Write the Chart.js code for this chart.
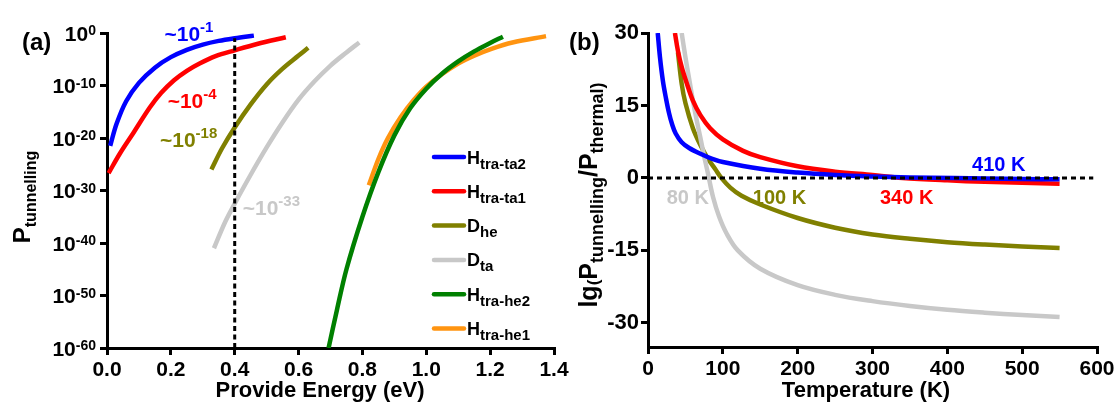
<!DOCTYPE html>
<html>
<head>
<meta charset="utf-8">
<script src="https://cdn.jsdelivr.net/npm/chart.js@4.4.0/dist/chart.umd.min.js"></script>
<style>
  body { margin: 0; background: #fff; }
  .panel { position: absolute; left: 0; top: 0; width: 1118px; height: 405px; }
</style>
</head>
<body>
<div class="panel"><canvas id="energyChart" width="1118" height="405"></canvas></div>
<div class="panel"><canvas id="tempChart" width="1118" height="405"></canvas></div>
<script>
// ---- panel (a): tunnelling probability vs provided energy (values are log10 P) ----
let energyTicks = [0, -10, -20, -30, -40, -50, -60];

let traTa2Energy = [0.01, 0.03, 0.06, 0.1, 0.15, 0.2, 0.25, 0.3, 0.35, 0.4, 0.46];
let traTa2LogP = [-21.5, -17.3, -13, -9.5, -6.6, -4.6, -3.2, -2.2, -1.5, -1.0, -0.5];

let traTa1Energy = [0.005, 0.04, 0.083, 0.134, 0.17, 0.21, 0.25, 0.29, 0.34, 0.4, 0.47, 0.56];
let traTa1LogP = [-26.7, -23, -19, -14.2, -11.4, -9, -7.2, -5.8, -4.4, -3.3, -2.1, -0.8];

let dHeEnergy = [0.327, 0.36, 0.4, 0.45, 0.5, 0.55, 0.6, 0.63];
let dHeLogP = [-26, -22, -18, -13.6, -9.8, -6.8, -4.3, -2.8];

let dTaEnergy = [0.335, 0.37, 0.4, 0.45, 0.5, 0.55, 0.6, 0.65, 0.7, 0.75, 0.79];
let dTaLogP = [-41, -36, -32.5, -27, -21.8, -17, -12.7, -9.2, -6.2, -3.7, -1.8];

let traHe2Energy = [0.694, 0.72, 0.75, 0.8, 0.85, 0.9, 0.95, 1.0, 1.05, 1.1, 1.15, 1.2, 1.24];
let traHe2LogP = [-60, -52.8, -45, -35, -26.5, -19.5, -14.3, -10.6, -7.7, -5.4, -3.5, -1.9, -0.7];

let traHe1Energy = [0.82, 0.85, 0.88, 0.92, 0.96, 1.0, 1.05, 1.1, 1.15, 1.2, 1.27, 1.375];
let traHe1LogP = [-29, -24, -20, -16, -12.8, -10.2, -7.8, -5.8, -4.3, -3.1, -1.8, -0.6];

let markerEnergy = [0.4, 0.4];
let markerLogP = [-60, -1];

// ---- panel (b): lg(Ptunnelling/Pthermal) vs temperature ----
let ratioTicks = [30, 15, 0, -15, -30];

let ratioTa2Temp = [13, 16, 20, 24, 28, 32, 37, 45, 55, 70, 85, 100, 150, 200, 250, 300, 350, 410, 450, 500, 550];
let ratioTa2 = [30, 25, 20, 16.5, 13.5, 11.2, 9.2, 7.4, 6.2, 5, 4, 3.3, 1.9, 1.1, 0.6, 0.3, 0.1, 0, -0.1, -0.2, -0.3];

let ratioTa1Temp = [36, 40, 45, 52, 60, 70, 83, 100, 127, 150, 200, 250, 300, 340, 400, 450, 500, 550];
let ratioTa1 = [30, 26.3, 23, 19.5, 16, 13, 10.3, 8, 5.6, 4.3, 2.4, 1.3, 0.6, 0, -0.5, -0.8, -1.0, -1.2];

let ratioHeTemp = [40, 45, 50, 60, 70, 80, 90, 98, 110, 125, 150, 200, 250, 300, 350, 400, 450, 500, 550];
let ratioHe = [26, 19.5, 15.5, 10.3, 6.8, 4, 1.8, 0, -2, -3.7, -5.5, -8.3, -10.3, -11.7, -12.6, -13.3, -13.8, -14.2, -14.5];

let ratioTaTemp = [45, 50, 55, 60, 65, 70, 75, 80, 87, 95, 105, 120, 150, 200, 250, 300, 350, 400, 450, 500, 550];
let ratioTa = [30, 25, 20.5, 16, 12, 8.3, 4.5, 1, -4, -8, -11.5, -15, -18.8, -22.2, -24.2, -25.5, -26.5, -27.3, -27.9, -28.4, -28.8];

let zeroTemp = [0, 595];
let zeroRatio = [0, 0];

const FONT = "'Liberation Sans', Arial, sans-serif";
const BLUE = '#0000ff', RED = '#ff0000', OLIVE = '#808000', GREY = '#c8c8c8', GREEN = '#008000', ORANGE = '#ff9410';

Chart.defaults.font.family = FONT;
Chart.defaults.font.weight = 'bold';
Chart.defaults.color = '#000';

function toPoints(xs, ys, fn) {
    return xs.map(function (x, i) { return {x: x, y: fn ? fn(ys[i]) : ys[i]}; });
}
function pow10(v) { return Math.pow(10, v); }

function curve(label, xs, ys, color, fn) {
    return {
        label: label,
        data: toPoints(xs, ys, fn),
        borderColor: color,
        borderWidth: 4.5,
        pointRadius: 0,
        tension: 0.35,
        fill: false,
    };
}

// draws text made of parts, e.g. [{t:'H', s:18}, {t:'tra-ta2', s:15, dy:5}]
function richText(ctx, x, y, parts, align) {
    let total = 0;
    parts.forEach(function (p) {
        ctx.font = 'bold ' + p.s + 'px ' + FONT;
        p.w = ctx.measureText(p.t).width;
        total += p.w;
    });
    let cx = x;
    if (align === 'center') cx = x - total / 2;
    if (align === 'right') cx = x - total;
    ctx.textBaseline = 'alphabetic';
    ctx.textAlign = 'left';
    parts.forEach(function (p) {
        ctx.font = 'bold ' + p.s + 'px ' + FONT;
        ctx.fillText(p.t, cx, y + (p.dy || 0));
        cx += p.w;
    });
}

function axisStyle() {
    return {
        grid: {drawOnChartArea: false, drawTicks: true, tickLength: 7, color: '#000', lineWidth: 3},
        border: {display: true, color: '#000', width: 3},
    };
}

// ---------------- panel (a) ----------------
let energyLegend = [
    {color: BLUE, main: 'H', sub: 'tra-ta2'},
    {color: RED, main: 'H', sub: 'tra-ta1'},
    {color: OLIVE, main: 'D', sub: 'he'},
    {color: GREY, main: 'D', sub: 'ta'},
    {color: GREEN, main: 'H', sub: 'tra-he2'},
    {color: ORANGE, main: 'H', sub: 'tra-he1'},
];

let energyNotes = [
    {x: 0.18, y: -1.5, exp: '-1', color: BLUE},
    {x: 0.19, y: -14.3, exp: '-4', color: RED},
    {x: 0.166, y: -21.7, exp: '-18', color: OLIVE},
    {x: 0.425, y: -34.7, exp: '-33', color: GREY},
];

let energyDecor = {
    id: 'energyDecor',
    afterDraw: function (chart) {
        let ctx = chart.ctx;
        let xs = chart.scales.x, ys = chart.scales.y;
        ctx.save();
        ctx.fillStyle = '#000';
        // y tick labels 10^n
        ys.ticks.forEach(function (t) {
            let py = ys.getPixelForValue(t.value);
            let e = String(Math.round(Math.log10(t.value)));
            ctx.font = 'bold 14px ' + FONT;
            let wSup = ctx.measureText(e).width;
            ctx.font = 'bold 21px ' + FONT;
            let wTen = ctx.measureText('10').width;
            let right = ys.right - 11;
            richText(ctx, right - wSup - wTen, py + 7.5, [{t: '10', s: 21}, {t: e, s: 14, dy: -5.5}], 'left');
        });
        // axis titles
        richText(ctx, 320, 397, [{t: 'Provide Energy (eV)', s: 22}], 'center');
        ctx.save();
        ctx.translate(30, 197);
        ctx.rotate(-Math.PI / 2);
        richText(ctx, 0, 0, [{t: 'P', s: 24}, {t: 'tunnelling', s: 16, dy: 6}], 'center');
        ctx.restore();
        // panel label
        richText(ctx, 22, 50, [{t: '(a)', s: 24}], 'left');
        // annotations
        energyNotes.forEach(function (n) {
            ctx.fillStyle = n.color;
            richText(ctx, xs.getPixelForValue(n.x), ys.getPixelForValue(pow10(n.y)),
                [{t: '~10', s: 21}, {t: n.exp, s: 15, dy: -9}], 'left');
        });
        // legend
        energyLegend.forEach(function (item, i) {
            let ly = 157 + i * 34.3;
            ctx.strokeStyle = item.color;
            ctx.lineWidth = 4.5;
            ctx.lineCap = 'round';
            ctx.beginPath();
            ctx.moveTo(434, ly);
            ctx.lineTo(464, ly);
            ctx.stroke();
            ctx.fillStyle = '#000';
            richText(ctx, 467, ly + 6.5, [{t: item.main, s: 18}, {t: item.sub, s: 15, dy: 5}], 'left');
        });
        ctx.restore();
    }
};

let energyChart = new Chart(document.getElementById('energyChart'), {
    type: 'line',
    data: {
        datasets: [
            Object.assign(curve('marker', markerEnergy, markerLogP, '#000', pow10), {borderWidth: 3, borderDash: [5, 3.5], tension: 0, order: -1}),
            curve('H tra-ta2', traTa2Energy, traTa2LogP, BLUE, pow10),
            curve('H tra-ta1', traTa1Energy, traTa1LogP, RED, pow10),
            curve('D he', dHeEnergy, dHeLogP, OLIVE, pow10),
            curve('D ta', dTaEnergy, dTaLogP, GREY, pow10),
            curve('H tra-he2', traHe2Energy, traHe2LogP, GREEN, pow10),
            curve('H tra-he1', traHe1Energy, traHe1LogP, ORANGE, pow10),
        ]
    },
    options: {
        responsive: false,
        animation: false,
        events: [],
        layout: {padding: {left: 0, right: 564, top: 33, bottom: 0}},
        plugins: {legend: {display: false}, tooltip: {enabled: false}},
        scales: {
            x: Object.assign(axisStyle(), {
                type: 'linear', min: 0, max: 1.4,
                ticks: {stepSize: 0.2, padding: 3, font: {size: 21, weight: 'bold'},
                    callback: function (v) { return v.toFixed(1); }},
                afterFit: function (s) { s.height = 57; },
            }),
            y: Object.assign(axisStyle(), {
                type: 'logarithmic', min: 1e-60, max: 1,
                ticks: {display: false},
                afterBuildTicks: function (s) {
                    s.ticks = energyTicks.map(function (e) { return {value: pow10(e)}; });
                },
                afterFit: function (s) { s.width = 107; },
            }),
        }
    },
    plugins: [energyDecor]
});

// ---------------- panel (b) ----------------
let tempNotes = [
    {x: 433, y: 1.44, text: '410 K', color: BLUE},
    {x: 310, y: -5.4, text: '340 K', color: RED},
    {x: 140, y: -5.4, text: '100 K', color: OLIVE},
    {x: 25, y: -5.4, text: '80 K', color: GREY},
];

let tempDecor = {
    id: 'tempDecor',
    afterDraw: function (chart) {
        let ctx = chart.ctx;
        let xs = chart.scales.x, ys = chart.scales.y;
        ctx.save();
        ctx.fillStyle = '#000';
        richText(ctx, 866, 397, [{t: 'Temperature (K)', s: 22}], 'center');
        ctx.save();
        ctx.translate(597, 195);
        ctx.rotate(-Math.PI / 2);
        richText(ctx, 0, 0, [
            {t: 'lg', s: 25}, {t: '(', s: 17, dy: 2}, {t: 'P', s: 25}, {t: 'tunnelling', s: 18, dy: 6},
            {t: '/', s: 25}, {t: 'P', s: 25}, {t: 'thermal)', s: 18, dy: 6}
        ], 'center');
        ctx.restore();
        richText(ctx, 569, 50, [{t: '(b)', s: 24}], 'left');
        tempNotes.forEach(function (n) {
            ctx.fillStyle = n.color;
            richText(ctx, xs.getPixelForValue(n.x), ys.getPixelForValue(n.y), [{t: n.text, s: 20}], 'left');
        });
        ctx.restore();
    }
};

let tempChart = new Chart(document.getElementById('tempChart'), {
    type: 'line',
    data: {
        datasets: [
            Object.assign(curve('zero', zeroTemp, zeroRatio, '#000'), {borderWidth: 3, borderDash: [5, 4], tension: 0, order: -1}),
            curve('H tra-ta2', ratioTa2Temp, ratioTa2, BLUE),
            curve('H tra-ta1', ratioTa1Temp, ratioTa1, RED),
            curve('D ta', ratioTaTemp, ratioTa, GREY),
            curve('D he', ratioHeTemp, ratioHe, OLIVE),
        ]
    },
    options: {
        responsive: false,
        animation: false,
        events: [],
        layout: {padding: {left: 578, right: 21, top: 33, bottom: 0}},
        plugins: {legend: {display: false}, tooltip: {enabled: false}},
        scales: {
            x: Object.assign(axisStyle(), {
                type: 'linear', min: 0, max: 600,
                ticks: {stepSize: 100, padding: 3, font: {size: 21, weight: 'bold'}},
                afterFit: function (s) { s.height = 58; },
            }),
            y: Object.assign(axisStyle(), {
                type: 'linear', min: -35, max: 30,
                ticks: {padding: 2, font: {size: 22, weight: 'bold'}},
                afterBuildTicks: function (s) {
                    s.ticks = ratioTicks.map(function (v) { return {value: v}; });
                },
                afterFit: function (s) { s.width = 70; },
            }),
        }
    },
    plugins: [tempDecor]
});
</script>
</body>
</html>
